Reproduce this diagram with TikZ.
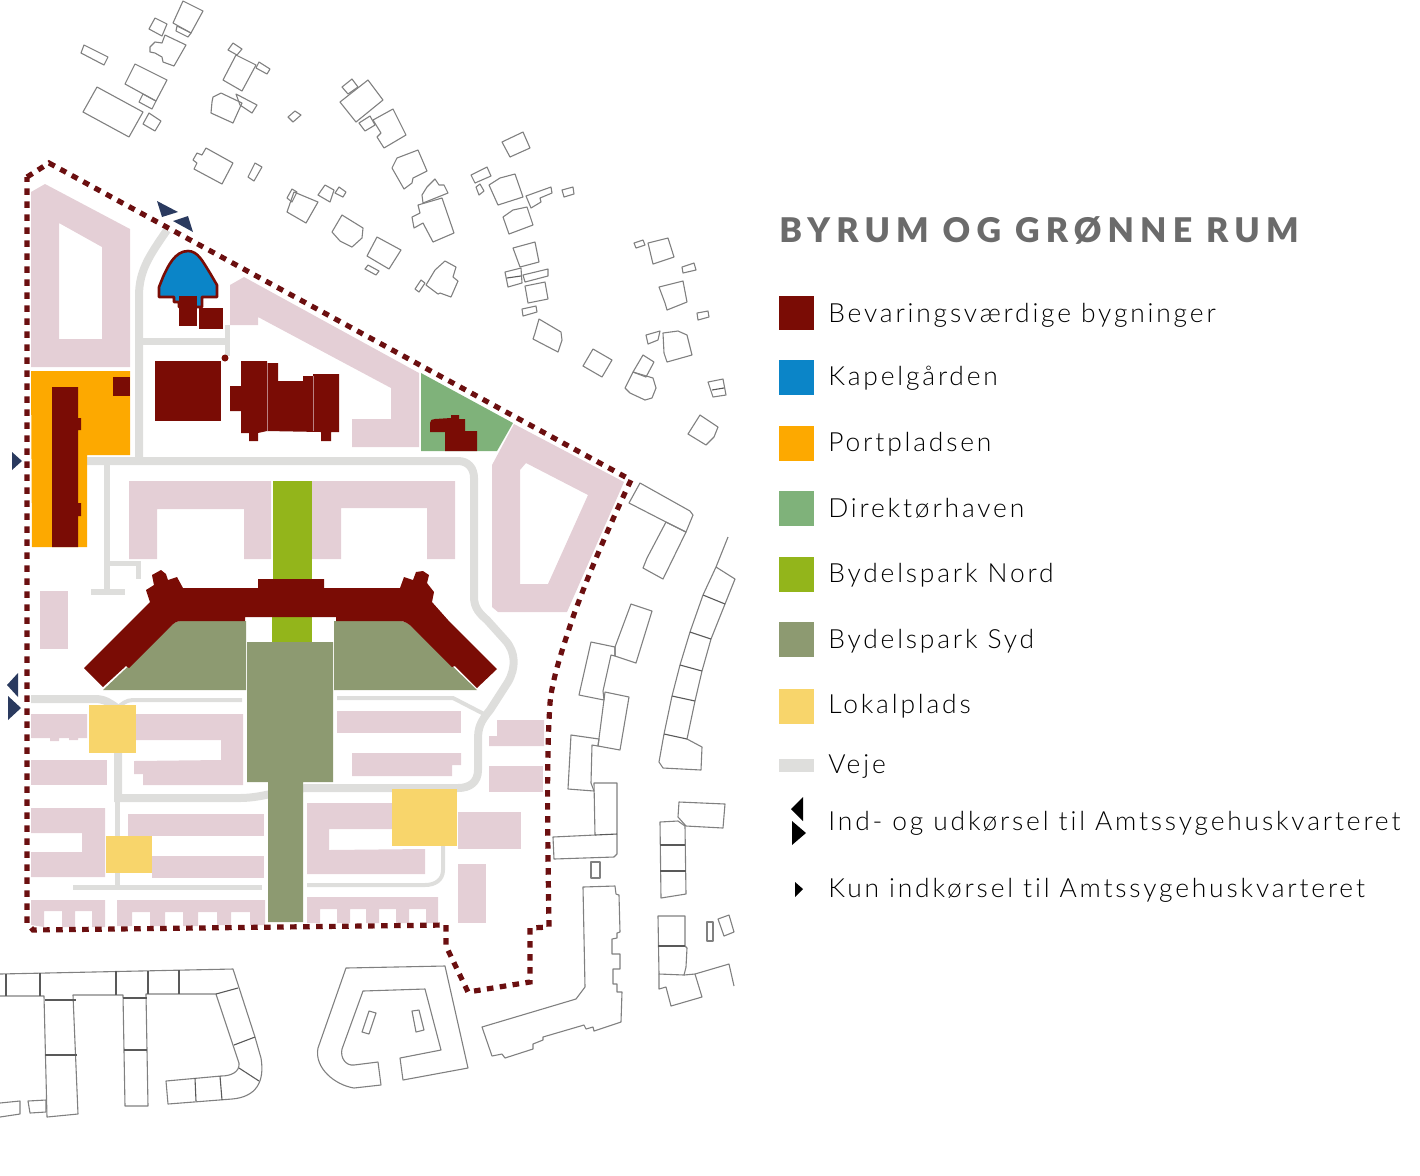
\documentclass[tikz,border=0pt]{standalone}
\usepackage{fontspec}
\setmainfont{Lato}
\newfontfamily\legendfont[LetterSpace=10.7,Ligatures=NoCommon]{Lato Light}
\newfontfamily\titlefont[LetterSpace=18]{Lato Black}
\definecolor{bevar}{HTML}{7A0C05}
\definecolor{bygning}{HTML}{E4CFD6}
\definecolor{kapel}{HTML}{0B85C8}
\definecolor{port}{HTML}{FDA900}
\definecolor{direktor}{HTML}{7FB27A}
\definecolor{nord}{HTML}{93B51B}
\definecolor{syd}{HTML}{8D9A71}
\definecolor{lokal}{HTML}{F8D56B}
\definecolor{vej}{HTML}{DEDEDC}
\definecolor{pil}{HTML}{2A3A5F}
\definecolor{skel}{HTML}{6B0F10}
\tikzset{
  hus/.style={draw=black!50,line width=0.55pt,line join=round},
  skillelinje/.style={draw=black!65,line width=0.55pt},
  pink/.style={fill=bygning,even odd rule},
  roed/.style={fill=bevar},
  vejbane/.style={draw=vej,line width=#1},
  vejbane/.default=4pt,
  gul/.style={fill=lokal},
  park/.style={fill=syd},
  pilhoved/.style={fill=pil},
  legendtxt/.style={anchor=base west,inner sep=0pt,text=black,font=\legendfont\fontsize{13.2}{16}\selectfont},
}
\begin{document}
\begin{tikzpicture}[x=0.5pt,y=-0.5pt]
    \path[use as bounding box] (0,0) rectangle (1420,1175);

    % veje
    \draw[vejbane] (139,460) -- (139,296) .. controls (139,270) and (150,255) .. (167,230);
    \draw[vejbane=3.5pt] (139,341) -- (227,341);
    \draw[vejbane=2.5pt] (227,325) -- (227,356);
    \draw[vejbane] (87,461) -- (458,461) .. controls (468,461) and (474,468) .. (474,478) -- (474,597)
      .. controls (474,608) and (480,614) .. (487,620) -- (505,640) .. controls (516,652) and (516,668) .. (508,682)
      -- (490,710) .. controls (480,722) and (478,728) .. (478,740) -- (478,770) .. controls (478,782) and (470,788) .. (458,788)
      -- (310,788) .. controls (285,788) and (265,798) .. (240,798) -- (118,798) -- (118,750);
    \draw[vejbane=2.5pt] (117,800) -- (117,886);
    \draw[vejbane=2.5pt] (73,887) -- (262,887);
    \draw[vejbane=3pt] (107,465) -- (107,590);
    \draw[vejbane=2.5pt] (107,563) -- (138,563) -- (138,579);
    \draw[vejbane=3pt] (91,592) -- (125,592);
    \draw[vejbane] (31,699) -- (95,699) .. controls (105,699) and (110,703) .. (117,708);
    \draw[vejbane=2pt] (117,708) .. controls (122,704) and (126,700) .. (133,700) -- (242,700);
    \draw[vejbane=2pt] (337,698) -- (453,698) -- (484,714);
    \draw[vejbane=2pt] (443,845) -- (443,870) .. controls (443,880) and (435,885) .. (425,885) -- (307,885);

    % bygninger
    \fill[pink] (31,192) -- (45,184) -- (130,229) -- (130,367) -- (31,367) -- cycle
      (59,223) -- (102,247) -- (102,339) -- (59,339) -- cycle;
    \fill[pink] (230,285) -- (244,277) -- (419,373) -- (419,447) -- (352,447) -- (352,419) -- (391,419) -- (391,388) -- (258,317) -- (258,325) -- (230,325) -- cycle;
    \fill[pink] (514,424) -- (624,482) -- (567,612) -- (498,612) -- (492,607) -- (492,465) -- cycle
      (526,463) -- (588,495) -- (548,584) -- (520,584) -- (520,470) -- cycle;
    \fill[pink] (129,481) -- (271,481) -- (271,559) -- (244,559) -- (244,509) -- (157,509) -- (157,559) -- (129,559) -- cycle;
    \fill[pink] (312,481) -- (455,481) -- (455,559) -- (427,559) -- (427,508) -- (341,508) -- (341,559) -- (312,559) -- cycle;
    \fill[pink] (40,591) rectangle (68,649);
    \fill[pink] (31,714) -- (87,714) -- (87,738) -- (78,738) -- (78,740) -- (69,740) -- (69,738) -- (59,738) -- (59,741) -- (50,741) -- (50,738) -- (31,738) -- cycle;
    \fill[pink] (31,760) -- (107,760) -- (107,785) -- (31,785) -- cycle;
    \fill[pink] (31,808) -- (105,808) -- (105,877) -- (31,877) -- (31,852) -- (82,852) -- (82,833) -- (31,833) -- cycle;
    \fill[pink] (31,900) -- (105,900) -- (105,927) -- (92,927) -- (92,911) -- (75,911) -- (75,927) -- (62,927) -- (62,911) -- (44,911) -- (44,927) -- (31,925) -- cycle;
    \fill[pink] (117,900) -- (265,900) -- (265,925) -- (250,925) -- (250,912) -- (231,912) -- (231,925) -- (217,925) -- (217,912) -- (198,912) -- (198,926) -- (183,926) -- (183,912) -- (165,912) -- (165,926) -- (150,926) -- (150,912) -- (132,912) -- (132,926) -- (117,926) -- cycle;
    \fill[pink] (135,714) -- (243,714) -- (243,785) -- (143,785) -- (143,774) -- (134,774) -- (134,761) -- (221,760) -- (221,740) -- (135,740) -- cycle;
    \fill[pink] (128,814) rectangle (264,836);
    \fill[pink] (152,856) rectangle (264,878);
    \fill[pink] (337,711) rectangle (461,733);
    \fill[pink] (352,753) -- (461,753) -- (461,765) -- (452,765) -- (452,776) -- (352,776) -- cycle;
    \fill[pink] (497,720) -- (544,720) -- (544,746) -- (489,746) -- (489,736) -- (497,736) -- cycle;
    \fill[pink] (489,766) rectangle (543,792);
    \fill[pink] (458,812) rectangle (521,849);
    \fill[pink] (458,864) rectangle (486,923);
    \fill[pink] (307,803) -- (392,803) -- (392,829) -- (329,829) -- (329,850) -- (425,849) -- (425,874) -- (307,874) -- cycle;
    \fill[pink] (307,897) -- (438,897) -- (438,923) -- (426,923) -- (426,909) -- (409,909) -- (409,923) -- (396,923) -- (396,909) -- (379,909) -- (379,923) -- (366,923) -- (366,909) -- (350,909) -- (350,923) -- (337,923) -- (337,909) -- (320,909) -- (320,923) -- (307,923) -- cycle;

    % pladser og parker
    \fill[port] (31,371) -- (130,371) -- (130,455) -- (87,455) -- (87,547) -- (32,547) -- cycle;
    \fill[direktor] (421,373) -- (513,423) -- (497,451) -- (421,451) -- cycle;
    \fill[nord] (273,481) rectangle (312,579);
    \fill[nord] (272,617) rectangle (312,642);
    \fill[park] (103,690) -- (172,625) .. controls (175,622) and (178,621) .. (182,621) -- (246,621) -- (246,690) -- cycle;
    \fill[park] (334,621) -- (400,621) .. controls (405,621) and (409,624) .. (413,628) -- (477,690) -- (334,690) -- cycle;
    \fill[park] (247,642) -- (333,642) -- (333,782) -- (303,782) -- (303,922) -- (268,922) -- (268,782) -- (247,782) -- cycle;
    \fill[gul] (89,705) rectangle (136,753);
    \fill[gul] (106,836) rectangle (152,873);
    \fill[gul] (392,789) rectangle (457,846);

    % kapelgaarden
    \filldraw[fill=kapel,draw=bevar,line width=1.3pt,line join=round] (159,297) -- (159,287) -- (163,277) .. controls (168,266) and (175,251) .. (188,251) .. controls (198,251) and (203,262) .. (210,273) -- (217,285) -- (217,297) -- (202,297) -- (202,307) -- (179,307) -- (179,302) -- (174,302) -- (174,297) -- cycle;
    \fill[roed] (179,296) rectangle (197,326);
    \fill[roed] (199,308) rectangle (223,329);

    % bevaringsvaerdige bygninger
    \fill[roed] (52,387) -- (78,387) -- (78,418) -- (81,418) -- (81,430) -- (78,430) -- (78,503) -- (81,503) -- (81,516) -- (78,516) -- (78,547) -- (52,547) -- cycle;
    \fill[roed] (113,377) rectangle (130,396);
    \fill[roed] (225,358) circle (3.5);
    \fill[roed] (155,361) rectangle (221,421);
    \fill[roed] (230,386) -- (241,386) -- (241,361) -- (267,361) -- (267,363) -- (278,363) -- (278,381) -- (303,381) -- (303,376) -- (313,376) -- (313,374) -- (339,374) -- (339,432) -- (331,432) -- (331,441) -- (321,441) -- (321,432) -- (267,431) -- (258,433) -- (258,441) -- (249,441) -- (249,433) -- (241,433) -- (241,411) -- (230,411) -- cycle;
    \draw[bygning!60!bevar,line width=0.3pt] (267,363) -- (267,431) (313,376) -- (313,431);
    \fill[roed] (445,451) -- (445,432) -- (430,432) -- (430,423) .. controls (430,420) and (432,419) .. (435,419) -- (451,418) -- (451,415) -- (459,415) -- (459,419) -- (465,419) -- (465,431) -- (477,431) -- (477,451) -- cycle;
    \fill[roed] (84,668) -- (103,687) -- (126,666) -- (129,668) -- (172,625) .. controls (175,622) and (178,621) .. (182,621) -- (245,621) -- (245,617) -- (336,617) -- (336,621) -- (400,621) .. controls (405,621) and (409,624) .. (413,628) -- (452,667) -- (455,666) -- (477,688) -- (497,669) -- (448,620) -- (432,602) -- (434,592) -- (427,583) -- (429,575) -- (423,571) -- (416,572) -- (413,580) -- (404,577) -- (400,588) -- (324,588) -- (324,579) -- (258,579) -- (258,588) -- (183,588) -- (177,577) -- (168,580) -- (166,574) -- (161,570) -- (152,575) -- (154,585) -- (146,590) -- (150,602) -- cycle;

    % omraadets afgraensning
    \draw[skel,line width=2.6pt,dash pattern=on 3.3pt off 3.2pt] (27,177) -- (49,163) -- (631,480) .. controls (612,520) and (590,570) .. (573,617) .. controls (562,650) and (552,680) .. (550,703) .. controls (547,750) and (547,800) .. (549,927) -- (530,928) -- (530,982) -- (468,992) -- (446,946) -- (446,925) -- (33,930) -- (27,923) -- cycle;

    % ind- og udkoersler
    \fill[pilhoved] (157,201) -- (178,212) -- (162,217) -- cycle;
    \fill[pilhoved] (173,221) -- (188,216) -- (193,232) -- cycle;
    \fill[pilhoved] (12,452) -- (22,461) -- (12,470) -- cycle;
    \fill[pilhoved] (18,673) -- (7,685) -- (18,697) -- cycle;
    \fill[pilhoved] (8,696) -- (21,708) -- (8,720) -- cycle;

    % huse mod nord
    \draw[hus] (183,1) -- (203,11) -- (191,33) -- (173,23) -- cycle;
    \draw[hus] (177,26) -- (191,33) -- (188,37) -- (176,31) -- cycle;
    \draw[hus] (155,18) -- (167,24) -- (162,36) -- (149,29) -- cycle;
    \draw[hus] (165,35) -- (186,45) -- (174,66) -- (163,62) -- (162,57) -- (155,53) -- (150,52) -- (150,47) -- (155,42) -- (162,43) -- cycle;
    \draw[hus] (84,45) -- (108,57) -- (104,65) -- (81,53) -- cycle;
    \draw[hus] (135,64) -- (167,80) -- (156,101) -- (125,84) -- cycle;
    \draw[hus] (143,94) -- (156,101) -- (152,109) -- (139,102) -- cycle;
    \draw[hus] (97,87) -- (143,112) -- (129,137) -- (83,112) -- cycle;
    \draw[hus] (149,113) -- (161,121) -- (155,131) -- (143,124) -- cycle;
    \draw[hus] (236,55) -- (256,65) -- (242,91) -- (223,80) -- cycle;
    \draw[hus] (233,43) -- (242,49) -- (237,55) -- (228,50) -- cycle;
    \draw[hus] (259,62) -- (270,69) -- (267,74) -- (256,68) -- cycle;
    \draw[hus] (221,93) -- (242,103) -- (233,123) -- (211,113) -- (212,102) -- (213,97) -- cycle;
    \draw[hus] (236,94) -- (257,105) -- (252,113) -- (240,105) -- cycle;
    \draw[hus] (295,111) -- (301,115) -- (293,122) -- (288,117) -- cycle;
    \draw[hus] (206,148) -- (233,163) -- (222,184) -- (194,169) -- (197,163) -- (193,160) -- (197,153) -- (202,155) -- cycle;
    \draw[hus] (255,163) -- (262,167) -- (254,181) -- (248,177) -- cycle;
    \draw[hus] (368,80) -- (383,100) -- (356,122) -- (340,102) -- cycle;
    \draw[hus] (352,79) -- (358,87) -- (348,94) -- (342,87) -- cycle;
    \draw[hus] (393,109) -- (406,135) -- (384,148) -- (377,137) -- (381,133) -- (373,120) -- cycle;
    \draw[hus] (359,123) -- (370,116) -- (375,125) -- (365,131) -- cycle;
    \draw[hus] (418,150) -- (427,171) -- (413,178) -- (412,183) -- (404,189) -- (392,168) -- (397,158) -- cycle;
    \draw[hus] (435,179) -- (439,185) -- (444,185) -- (448,193) -- (423,203) -- (422,195) -- (427,187) -- cycle;
    \draw[hus] (442,198) -- (454,233) -- (433,242) -- (423,223) -- (414,228) -- (412,217) -- (420,213) -- (418,205) -- cycle;
    \draw[hus] (294,192) -- (318,202) -- (306,223) -- (287,212) -- cycle;
    \draw[hus] (292,189) -- (297,192) -- (292,202) -- (287,198) -- cycle;
    \draw[hus] (325,185) -- (334,190) -- (330,202) -- (318,195) -- cycle;
    \draw[hus] (339,187) -- (346,192) -- (343,197) -- (335,193) -- cycle;
    \draw[hus] (342,215) -- (363,228) -- (362,238) -- (352,247) -- (340,241) -- (332,232) -- cycle;
    \draw[hus] (377,237) -- (401,250) -- (389,269) -- (367,256) -- cycle;
    \draw[hus] (368,265) -- (379,271) -- (376,275) -- (365,269) -- cycle;
    \draw[hus] (445,261) -- (456,267) -- (453,277) -- (458,281) -- (451,297) -- (440,293) -- (438,294) -- (426,285) -- (435,270) -- cycle;
    \draw[hus] (421,280) -- (425,283) -- (419,292) -- (415,289) -- cycle;
    \draw[hus] (523,132) -- (530,148) -- (510,157) -- (502,142) -- cycle;
    \draw[hus] (487,167) -- (491,176) -- (475,183) -- (471,175) -- cycle;
    \draw[hus] (480,184) -- (484,191) -- (479,195) -- (476,187) -- cycle;
    \draw[hus] (515,174) -- (523,197) -- (498,205) -- (489,185) -- (500,178) -- cycle;
    \draw[hus] (551,187) -- (552,193) -- (540,198) -- (541,202) -- (531,208) -- (526,196) -- cycle;
    \draw[hus] (573,187) -- (574,194) -- (564,197) -- (562,190) -- cycle;
    \draw[hus] (527,207) -- (533,225) -- (509,234) -- (503,217) -- (513,210) -- cycle;
    \draw[hus] (535,242) -- (539,262) -- (520,267) -- (513,248) -- cycle;
    \draw[hus] (505,272) -- (521,268) -- (522,283) -- (508,287) -- cycle;
    \draw[skillelinje] (507,278) -- (521,276);
    \draw[hus] (523,275) -- (548,269) -- (548,276) -- (525,282) -- cycle;
    \draw[hus] (525,286) -- (545,282) -- (548,299) -- (528,303) -- cycle;
    \draw[hus] (522,309) -- (536,306) -- (537,312) -- (523,316) -- cycle;
    \draw[hus] (539,319) -- (561,332) -- (562,340) -- (558,352) -- (533,339) -- (535,333) -- cycle;
    \draw[hus] (593,349) -- (612,360) -- (602,377) -- (583,366) -- cycle;
    \draw[hus] (643,355) -- (654,362) -- (646,377) -- (633,372) -- cycle;
    \draw[hus] (633,372) -- (653,378) -- (656,388) -- (652,398) -- (645,400) -- (630,393) -- (625,388) -- cycle;
    \draw[hus] (646,335) -- (660,331) -- (658,340) -- (648,344) -- cycle;
    \draw[hus] (663,333) -- (678,331) -- (687,335) -- (692,355) -- (667,362) -- (664,353) -- cycle;
    \draw[hus] (634,243) -- (643,240) -- (645,245) -- (636,248) -- cycle;
    \draw[hus] (648,243) -- (668,238) -- (674,257) -- (653,264) -- cycle;
    \draw[hus] (682,267) -- (694,263) -- (696,270) -- (683,273) -- cycle;
    \draw[hus] (659,287) -- (683,281) -- (687,302) -- (667,310) -- (665,303) -- cycle;
    \draw[hus] (697,313) -- (708,311) -- (709,317) -- (698,320) -- cycle;
    \draw[hus] (708,382) -- (723,379) -- (726,395) -- (713,397) -- cycle;
    \draw[skillelinje] (712,390) -- (724,388);
    \draw[hus] (700,415) -- (718,427) -- (714,437) -- (706,445) -- (688,434) -- cycle;

    % huse mod oest
    \draw[hus] (640,483) -- (690,511) -- (693,515) -- (686,532) -- (666,522) -- (629,503) -- cycle;
    \draw[hus] (666,522) -- (686,532) -- (663,579) -- (643,568) -- (647,558) -- cycle;
    \draw[hus] (728,537) -- (716,567) -- (703,595) -- (690,632) -- (680,665) -- (672,696) -- (664,734) -- (659,762) -- (663,768) -- (701,770) -- (702,747) -- (687,739) -- (695,701) -- (702,671) -- (711,639) -- (725,604) -- (735,579) -- (716,567);
    \draw[skillelinje] (703,595) -- (725,604) (690,632) -- (711,639) (680,665) -- (702,671) (672,696) -- (695,701) (664,734) -- (687,739);
    \draw[hus] (631,604) -- (652,611) -- (636,663) -- (615,656) -- (615,647) -- cycle;
    \draw[hus] (591,642) -- (615,647) -- (615,656) -- (611,655) -- (603,691) -- (604,700) -- (579,695) -- cycle;
    \draw[hus] (605,692) -- (629,697) -- (620,750) -- (598,746) -- cycle;
    \draw[hus] (571,735) -- (599,739) -- (598,746) -- (592,745) -- (591,783) -- (594,791) -- (568,789) -- cycle;
    \draw[hus] (594,783) -- (617,783) -- (617,854) -- (614,857) -- (554,859) -- (553,837) -- (595,835) -- cycle;
    \draw[skillelinje] (595,835) -- (617,834);
    \draw[hus] (591,862) rectangle (600,878);
    \draw[hus] (679,802) -- (725,804) -- (723,828) -- (686,826) -- (678,817) -- cycle;
    \draw[hus] (660,822) -- (678,821) -- (685,826) -- (686,894) -- (661,898) -- cycle;
    \draw[skillelinje] (660,845) -- (685,845) (660,871) -- (686,871);
    \draw[hus] (658,916) -- (685,916) -- (685,946) -- (687,948) -- (686,967) -- (684,975) -- (659,974) -- cycle;
    \draw[skillelinje] (658,946) -- (685,946);
    \draw[hus] (659,974) -- (659,989) -- (666,987) -- (671,1006) -- (702,997) -- (695,974) -- (684,975);
    \draw[hus] (695,974) -- (729,964) -- (734,986);
    \draw[hus] (707,922) rectangle (713,941);
    \draw[hus] (718,919) -- (729,915) -- (734,932) -- (724,936) -- cycle;

    % huse mod syd
    \draw[hus] (583,887) -- (615,886) -- (616,894) -- (619,895) -- (620,932) -- (617,933) -- (617,938) -- (612,939) -- (612,954) -- (620,954) -- (620,969) -- (613,969) -- (613,984) -- (617,984) -- (617,992) -- (622,992) -- (621,1022) -- (594,1031) -- (593,1027) -- (586,1029) -- (584,1025) -- (543,1037) -- (543,1040) -- (533,1044) -- (533,1049) -- (505,1058) -- (502,1054) -- (492,1056) -- (482,1027) -- (576,999) -- (585,987) -- cycle;
    \draw[hus] (346,968) -- (445,966) -- (468,1068) -- (403,1080) -- (400,1058) -- (441,1050) -- (425,989) -- (363,991) -- (342,1049) .. controls (340,1058) and (346,1066) .. (354,1065) -- (378,1062) -- (381,1085) -- (354,1088) .. controls (335,1085) and (314,1068) .. (318,1048) -- cycle;
    \draw[hus] (369,1011) -- (376,1013) -- (369,1034) -- (362,1032) -- cycle;
    \draw[hus] (412,1011) -- (419,1010) -- (424,1030) -- (416,1032) -- cycle;
    \draw[hus] (0,974) -- (233,969) -- (255,1037) -- (261,1058) .. controls (265,1082) and (256,1097) .. (232,1099) -- (168,1104) -- (166,1081) -- (221,1076) .. controls (231,1076) and (240,1072) .. (239,1063) -- (216,994) -- (146,994) -- (148,1106) -- (125,1106) -- (123,995) -- (73,995) -- (78,1114) -- (47,1117) -- (44,996) -- (0,996);
    \draw[skillelinje] (6,974) -- (6,996) (40,973) -- (40,996) (116,971) -- (116,995) (148,971) -- (148,994) (179,970) -- (179,994);
    \draw[skillelinje] (45,1000) -- (76,1000) (45,1055) -- (77,1055) (123,998) -- (147,998) (124,1050) -- (147,1050);
    \draw[skillelinje] (216,994) -- (238,988) (234,1045) -- (255,1037) (239,1068) -- (259,1081) (195,1078) -- (196,1101) (220,1076) -- (222,1100);
    \draw[hus] (0,1103) -- (20,1101) -- (20,1114) -- (0,1117);
    \draw[hus] (28,1101) -- (46,1100) -- (46,1112) -- (30,1113) -- cycle;

    % signaturforklaring
    \node[anchor=base west,inner sep=0pt,text=black!58,font=\titlefont\fontsize{17}{20}\selectfont] (titel) at (779,242) {BYRUM OG GRØNNE RUM};

    \fill[bevar] (779,296) rectangle (814,330);
    \fill[kapel] (779,360) rectangle (814,395);
    \fill[port] (779,426) rectangle (814,461);
    \fill[direktor] (779,491) rectangle (814,526);
    \fill[nord] (779,557) rectangle (814,592);
    \fill[syd] (779,622) rectangle (814,657);
    \fill[lokal] (779,689) rectangle (814,724);
    \fill[vej] (779,759) rectangle (814,772);
    \fill (803,797) -- (791,809) -- (803,821) -- cycle;
    \fill (792,821) -- (806,833) -- (792,845) -- cycle;
    \fill (795,882) -- (803,889) -- (795,897) -- cycle;

    \node[legendtxt] (bevaring) at (828,322) {Bevaringsværdige bygninger};
    \node[legendtxt] (kapelgaard) at (828,385) {Kapelgården};
    \node[legendtxt] (portplads) at (828,451) {Portpladsen};
    \node[legendtxt] (direktoerhave) at (828,517) {Direktørhaven};
    \node[legendtxt] (parknord) at (828,582) {Bydelspark Nord};
    \node[legendtxt] (parksyd) at (828,648) {Bydelspark Syd};
    \node[legendtxt] (lokalplads) at (828,713) {Lokalplads};
    \node[legendtxt] (veje) at (828,773) {Veje};
    \node[legendtxt] (indud) at (828,830) {Ind- og udkørsel til Amtssygehuskvarteret};
    \node[legendtxt] (kunind) at (828,897) {Kun indkørsel til Amtssygehuskvarteret};
\end{tikzpicture}
\end{document}
